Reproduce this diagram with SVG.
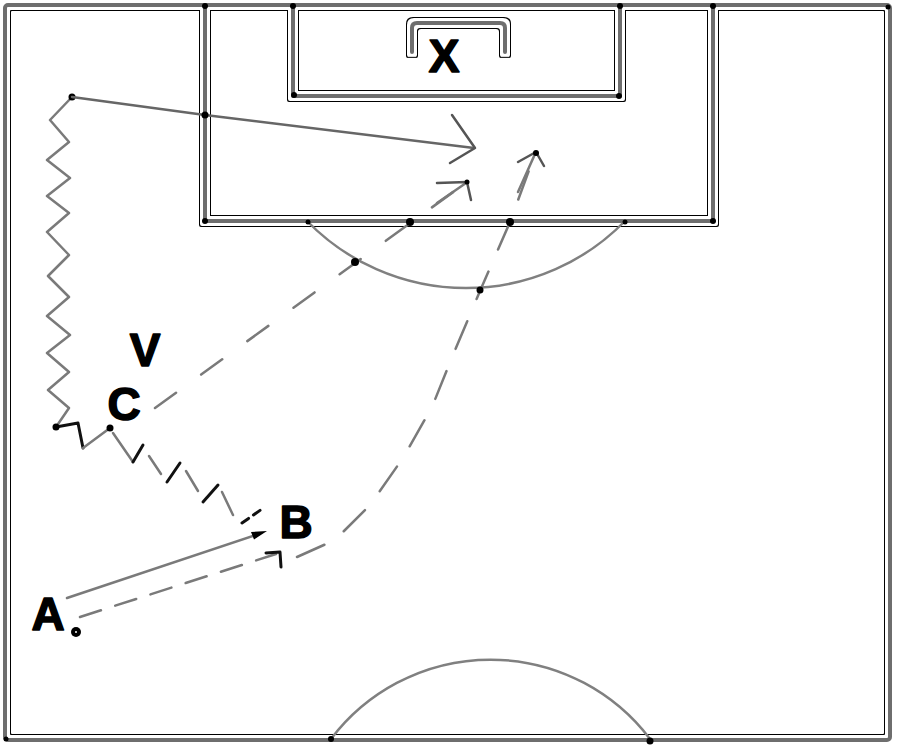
<svg xmlns="http://www.w3.org/2000/svg" width="900" height="747" viewBox="0 0 900 747">
<defs>
<style>
.fl{fill:none;stroke:#6e6e6e;stroke-width:4;stroke-linejoin:round;stroke-linecap:round}
.arc{fill:none;stroke:#808080;stroke-width:2.5}
.mv{fill:none;stroke:#7a7a7a;stroke-width:2.5;stroke-linecap:round;stroke-linejoin:round}
.dk{fill:none;stroke:#111;stroke-width:3;stroke-linecap:round;stroke-linejoin:round}
.hd{fill:none;stroke:#555;stroke-width:2.5;stroke-linecap:round;stroke-linejoin:round}
.lbl{font-family:"Liberation Sans",Arial,sans-serif;font-weight:bold;font-size:46px;fill:#000;stroke:#000;stroke-width:1.5;stroke-linejoin:round;text-anchor:middle}
.dot{fill:#000}
</style>
<filter id="halo" filterUnits="userSpaceOnUse" x="-20" y="-20" width="940" height="787">
<feMorphology in="SourceAlpha" operator="dilate" radius="4" result="d1"/>
<feMorphology in="SourceAlpha" operator="dilate" radius="3" result="d2"/>
<feComposite in="d1" in2="d2" operator="out" result="ring"/>
<feFlood x="2" y="2" width="891" height="741" flood-color="#000" result="blk"/>
<feComposite in="blk" in2="ring" operator="in" result="ringc"/>
<feMerge><feMergeNode in="ringc"/><feMergeNode in="SourceGraphic"/></feMerge>
</filter>
</defs>
<rect width="900" height="747" fill="#fff"/>
<g id="field" filter="url(#halo)">
<rect class="fl" x="5" y="5" width="885" height="735" rx="3"/>
<path class="fl" d="M205,5 V221 H713 V5"/>
<path class="fl" d="M293,5 V96 H620 V5"/>
<path class="fl" d="M412,52 V28 Q412,23 417,23 H500 Q505,23 505,28 V52"/>
</g>
<g id="arcs">
<path class="arc" d="M307,221 A222,222 0 0 0 625,221"/>
<path class="arc" d="M331,739 A200,200 0 0 1 650,739"/>
</g>
<g id="junctions">
<circle class="dot" cx="205" cy="6" r="3"/>
<circle class="dot" cx="293" cy="6" r="3"/>
<circle class="dot" cx="620" cy="6" r="3"/>
<circle class="dot" cx="713" cy="6" r="3"/>
<circle class="dot" cx="888" cy="7" r="2.5"/>
<circle class="dot" cx="294" cy="95" r="3"/>
<circle class="dot" cx="619" cy="96" r="3"/>
<circle class="dot" cx="205" cy="221" r="3"/>
<circle class="dot" cx="713" cy="221" r="3"/>
<circle class="dot" cx="308" cy="222" r="2.5"/>
<circle class="dot" cx="625" cy="222" r="2.5"/>
<circle class="dot" cx="331" cy="739" r="3"/>
<circle class="dot" cx="650" cy="741" r="3.5"/>
<circle class="dot" cx="6" cy="739" r="2.5"/>
</g>
<g id="connectors">
<polyline class="mv" points="72,97 50,120 69,142 47,160 70,178 47,196 69,213 47,232 69,255 48,276 69,297 47,316 70,335 47,353 69,372 48,390 69,408 56,427"/>
<polyline class="dk" points="56,427 78,423 83,448"/>
<line class="mv" x1="83" y1="448" x2="110" y2="428"/>
<circle class="dot" cx="72" cy="97" r="3.5"/>
<circle class="dot" cx="56" cy="427" r="3.5"/>
<circle class="dot" cx="110" cy="428" r="3.5"/>
<polyline class="mv" points="72,97 205,115 474,148" style="stroke:#666"/>
<circle class="dot" cx="205" cy="115" r="3.5"/>
<path class="hd" d="M452,115 L475,148 L450,163"/>
<line class="mv" x1="113" y1="433" x2="133" y2="462"/>
<line class="dk" x1="133" y1="462" x2="143" y2="445"/>
<line class="mv" x1="149" y1="456" x2="161" y2="474"/>
<line class="dk" x1="167" y1="482" x2="180" y2="463"/>
<line class="mv" x1="186" y1="471" x2="198" y2="491"/>
<line class="dk" x1="203" y1="502" x2="218" y2="485"/>
<line class="mv" x1="222" y1="492" x2="233" y2="515"/>
<line class="dk" x1="242" y1="523" x2="262" y2="509" stroke-dasharray="8 6"/>
<line class="mv" x1="155" y1="408" x2="467" y2="182" stroke-dasharray="26 31"/>
<line class="mv" x1="437" y1="203" x2="466" y2="183"/>
<path class="hd" d="M437,183 L467,182 L471,200"/>
<circle class="dot" cx="467" cy="182" r="2.5"/>
<circle class="dot" cx="355" cy="262" r="4"/>
<circle class="dot" cx="410" cy="222" r="4"/>
<polyline class="mv" points="297,557 335,540 370,505 403,458 432,407 453,355 480,291 510,222 535,154" stroke-dasharray="30 24"/>
<line class="mv" x1="518" y1="192" x2="535" y2="154"/>
<path class="hd" d="M518,162 L536,152 L544,166"/>
<circle class="dot" cx="536" cy="153" r="3"/>
<circle class="dot" cx="480" cy="290" r="3.5"/>
<circle class="dot" cx="510" cy="222" r="4"/>
<line class="mv" x1="67" y1="598" x2="256" y2="535"/>
<polygon points="267,531 254,539.5 251,532" fill="#000"/>
<line class="mv" x1="80" y1="617" x2="276" y2="554" stroke-dasharray="22 15"/>
<path class="dk" d="M266,553 L280,552 L281,567"/>
</g>
<g id="ball"><circle cx="76" cy="632" r="5" fill="#000"/><circle cx="76" cy="632" r="1" fill="#fff"/></g>
<g id="X"><text class="lbl" x="444" y="72">X</text></g>
<g id="V"><text class="lbl" x="145" y="366">V</text></g>
<g id="C"><text class="lbl" x="124" y="420">C</text></g>
<g id="A"><text class="lbl" x="48" y="630">A</text></g>
<g id="B"><text class="lbl" x="296" y="538">B</text></g>
</svg>
